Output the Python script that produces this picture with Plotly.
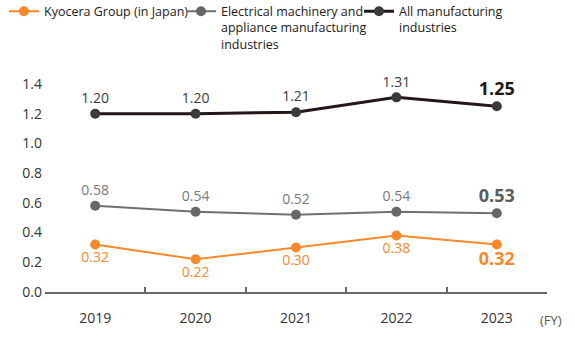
import plotly.graph_objects as go

years = ["2019", "2020", "2021", "2022", "2023"]
kyocera = [0.32, 0.22, 0.30, 0.38, 0.32]
electrical = [0.58, 0.54, 0.52, 0.54, 0.53]
all_mfg = [1.20, 1.20, 1.21, 1.31, 1.25]
y_ticks = [0.0, 0.2, 0.4, 0.6, 0.8, 1.0, 1.2, 1.4]

names = ["Kyocera Group (in Japan)",
         "Electrical machinery and<br>appliance manufacturing<br>industries",
         "All manufacturing<br>industries"]
line_colors = ["#F7892B", "#707072", "#231815"]
marker_colors = ["#F7892B", "#66676A", "#3A3A3C"]
label_colors = ["#F7892B", "#77787B", "#3A3A3C"]
last_label_colors = ["#F7892B", "#5A5B5E", "#231815"]
line_widths = [2, 2, 3]
positions = ["bottom center", "top center", "top center"]
legend_ids = ["legend", "legend2", "legend3"]
legend_x = [-0.0817, 0.2709, 0.6255]
FONT = "Open Sans, Noto Sans, sans-serif"

fig = go.Figure()
for vals, name, lc, mc, tc, ltc, lw, pos, lid in zip(
        [kyocera, electrical, all_mfg], names, line_colors, marker_colors,
        label_colors, last_label_colors, line_widths, positions, legend_ids):
    texts = [f"{v:.2f}" for v in vals]
    texts[-1] = f"<b>{texts[-1]}</b>"
    fig.add_trace(go.Scatter(
        x=years, y=vals, name=name, mode="lines+markers+text",
        line=dict(color=lc, width=lw),
        marker=dict(color=mc, size=10),
        text=texts, textposition=pos,
        textfont=dict(family=FONT, size=[14, 14, 14, 14, 18],
                      color=[tc, tc, tc, tc, ltc]),
        cliponaxis=False, legend=lid,
    ))

legend_common = dict(orientation="v", xref="paper", y=1.42, yref="paper",
                     xanchor="left", yanchor="top", valign="top",
                     font=dict(family=FONT, size=12.5, color="#231815"),
                     itemwidth=30, bgcolor="rgba(0,0,0,0)")

fig.update_layout(
    width=575, height=338,
    margin=dict(l=45, r=28, t=84, b=46, autoexpand=False),
    paper_bgcolor="white", plot_bgcolor="white",
    font=dict(family=FONT, size=14, color="#333333"),
    showlegend=True,
    legend=dict(x=legend_x[0], **legend_common),
    legend2=dict(x=legend_x[1], **legend_common),
    legend3=dict(x=legend_x[2], **legend_common),
    xaxis=dict(type="category", range=[-0.5, 4.5], showgrid=False,
               showline=True, linecolor="#666666", linewidth=1.5,
               ticks="inside", tickson="boundaries", ticklen=5,
               tickcolor="#666666", tickwidth=1.5,
               tickfont=dict(family=FONT, size=14, color="#333333"),
               ticklabelstandoff=12, zeroline=False, fixedrange=True),
    yaxis=dict(range=[0, 1.4], tickvals=y_ticks,
               ticktext=[f"{v:.1f}" for v in y_ticks],
               showgrid=False, zeroline=False, showline=False,
               tickfont=dict(family=FONT, size=14, color="#333333"),
               ticklabelstandoff=2),
    annotations=[dict(text="(FY)", xref="paper", yref="paper", x=1.0, y=0,
                      xanchor="center", yanchor="top", yshift=-17, xshift=4,
                      showarrow=False,
                      font=dict(family=FONT, size=13, color="#555555"))],
)

fig.write_html("out.html")
